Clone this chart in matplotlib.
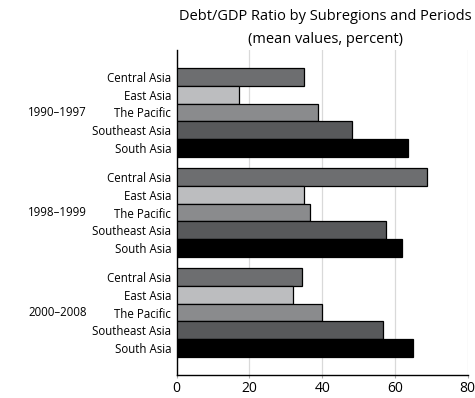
import matplotlib
matplotlib.use("Agg")
import matplotlib.pyplot as plt
import numpy as np

plt.rcParams['font.family'] = ['Open Sans', 'DejaVu Sans']

periods = ["1990–1997", "1998–1999", "2000–2008"]
subregions = ["Central Asia", "East Asia", "The Pacific", "Southeast Asia", "South Asia"]
values_1990_1997 = [35.0, 17.1, 38.8, 48.2, 63.6]
values_1998_1999 = [68.9, 35.0, 36.6, 57.6, 62.0]
values_2000_2008 = [34.4, 32.0, 40.0, 56.7, 65.0]
colors = ["#6d6e70", "#bcbdbf", "#8a8b8d", "#58595b", "#000000"]
xticks = [0, 20, 40, 60, 80]

data = [values_1990_1997, values_1998_1999, values_2000_2008]
group_pitch = 5.65

fig = plt.figure(figsize=(4.75, 3.98), dpi=100)
ax = fig.add_axes([176.7/475, 1-375/398, (467.7-176.7)/475, 325/398])

ytick_pos, ytick_lab = [], []
for g, vals in enumerate(data):
    for i, v in enumerate(vals):
        y = g*group_pitch + i
        ax.barh(y, v, height=1.0, color=colors[i], edgecolor="black", linewidth=0.9, zorder=3)
        ytick_pos.append(y)
        ytick_lab.append(subregions[i])
    ax.text(-0.41, (g*group_pitch + 2), periods[g], transform=ax.get_yaxis_transform(),
            ha="center", va="center", fontsize=8.3)

ax.set_yticks(ytick_pos)
ax.set_yticklabels(ytick_lab, fontsize=8.3)
ax.tick_params(axis="y", length=0, pad=4)
ax.set_xticks(xticks)
ax.set_xticklabels([str(t) for t in xticks], fontsize=10)
ax.tick_params(axis="x", length=2, color="#aaaaaa", pad=2)
ax.set_xlim(0, 80)
ax.set_ylim(2*group_pitch + 4 + 1.52, -1.52)
ax.xaxis.grid(True, color="#d9d9d9", linewidth=0.9, zorder=0)
ax.set_axisbelow(True)
for s in ["top", "right"]:
    ax.spines[s].set_visible(False)
ax.spines["left"].set_linewidth(1.0)
ax.spines["bottom"].set_linewidth(1.0)

fig.text(325/475, 1-17/398, "Debt/GDP Ratio by Subregions and Periods", ha="center", va="center", fontsize=10.5)
fig.text(325/475, 1-39.5/398, "(mean values, percent)", ha="center", va="center", fontsize=10.5)

fig.savefig("out.png", dpi=100)
